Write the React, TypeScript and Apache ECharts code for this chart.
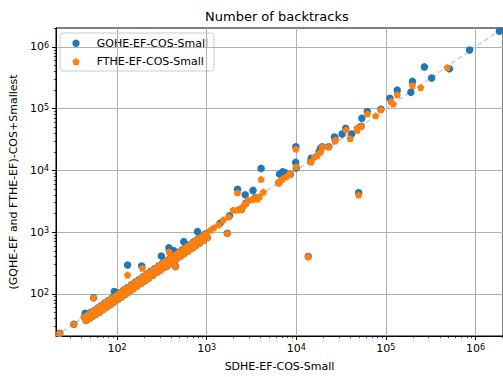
import React, { useEffect, useRef } from 'react';
import * as echarts from 'echarts';

const FONT = 'DejaVu Sans';
const axisMin = 20.8;
const axisMax = 2.03e6;
const majorTicks = [100, 1000, 10000, 100000, 1000000];
const seriesNames = ['GQHE-EF-COS-Small', 'FTHE-EF-COS-Small'];
const seriesColors = ['#1f77b4', '#ff7f0e'];

// dense band along the diagonal (both series)
const bandX = [43, 45, 47, 49, 51, 53, 56, 58, 61, 64, 67, 70, 73, 76, 80, 84, 88, 92, 97, 102, 107, 112, 118, 124, 130, 137, 144, 151, 159, 167, 176, 185, 195, 205, 215, 226, 238, 250, 263, 277, 291, 306, 322, 339, 356, 374, 393, 413, 434, 457, 480, 505, 531, 558, 587, 617, 649, 682, 717, 754, 793, 834, 877, 922, 970, 1020];
const bandY = [42, 37, 46, 40, 50, 43, 54, 47, 59, 51, 65, 56, 71, 61, 78, 67, 86, 74, 94, 81, 104, 89, 115, 99, 126, 109, 140, 121, 155, 134, 171, 148, 190, 164, 209, 181, 232, 200, 256, 222, 283, 245, 313, 271, 346, 300, 382, 331, 422, 366, 467, 404, 516, 447, 571, 494, 631, 546, 697, 603, 771, 667, 853, 738, 944, 816];

const gqhePoints: [number, number][] = [
  [22.9, 23.1], [32.9, 32.3], [44, 48.7], [54.7, 87], [93, 109], [131, 294], [188, 284], [312, 412],
  [379, 561], [430, 502], [555, 702], [791, 1020], [363, 284], [449, 277], [1410, 1390], [1700, 960],
  [1800, 1850], [2210, 4940], [2690, 4050], [3290, 4750], [4050, 10800], [2450, 2340], [2730, 2940],
  [3500, 3650], [6400, 6300], [6500, 8750], [7060, 9500], [7500, 9200], [8600, 8700], [9900, 24200],
  [9850, 13500], [10000, 11000], [13600, 402], [14500, 13900], [14700, 15700], [18000, 20000],
  [18700, 22800], [19500, 24200], [23000, 24200], [26700, 34700], [27000, 33800], [32500, 38800],
  [35600, 48000], [41500, 39000], [49700, 4360], [53000, 52000], [54000, 70000], [62000, 90000],
  [88000, 98000], [111000, 148000], [134000, 200000], [190000, 184000], [198000, 277000],
  [269000, 476000], [324000, 313000], [512000, 443000], [860000, 890000], [1850000, 1800000],
];

const fthePoints: [number, number][] = [
  [22.9, 23.1], [32.9, 32.3], [54.7, 87], [131, 203], [192, 261], [363, 284], [449, 277], [379, 483],
  [1100, 1080], [1200, 1180], [1350, 1310], [1530, 1580], [1750, 1770], [1700, 960], [1980, 2290],
  [2210, 4350], [2200, 2300], [2350, 2420], [2450, 2340], [2600, 2700], [2730, 2940], [2900, 3300],
  [3200, 3350], [3300, 3500], [3500, 3650], [3700, 3450], [3900, 3800], [4300, 4500], [4050, 7200],
  [6400, 6600], [6400, 6300], [7000, 7300], [7700, 7900], [8500, 8980], [8600, 8700], [9900, 22200],
  [10000, 11500], [13600, 402], [14500, 13900], [14700, 13800], [16100, 16700], [17200, 17700],
  [18700, 20000], [19500, 24200], [23000, 24200], [27000, 30000], [27500, 31500], [36000, 45600],
  [40000, 33000], [47700, 49000], [48000, 45000], [49700, 4000], [53000, 52000], [62000, 83000],
  [77000, 77000], [88000, 96000], [114000, 131000], [121000, 119000], [134000, 168000],
  [198000, 238000], [245000, 221000], [485000, 466000],
];

const PENT = 'path://M0,-10L9.511,-3.09L5.878,8.09L-5.878,8.09L-9.511,-3.09Z';

function pentagon(cx: number, cy: number, r: number): number[][] {
  const pts: number[][] = [];
  for (let k = 0; k < 5; k++) {
    const a = -Math.PI / 2 + (k * 2 * Math.PI) / 5;
    pts.push([cx + r * Math.cos(a), cy + r * Math.sin(a)]);
  }
  return pts;
}

export default function App() {
  const ref = useRef<HTMLDivElement>(null);
  useEffect(() => {
    const chart = echarts.init(ref.current!, null, { renderer: 'svg' });
    const band = bandX.map((x, i) => [x, bandY[i]]);
    const minor: number[] = [];
    for (let e = 1; e <= 6; e++) {
      for (let m = 2; m <= 9; m++) {
        const v = m * Math.pow(10, e);
        if (v > axisMin && v < axisMax) minor.push(v);
      }
    }
    const label = {
      color: '#000',
      fontFamily: FONT,
      fontSize: 11,
      customValues: majorTicks,
      formatter: (v: number) => `10{sup|${Math.round(Math.log10(v))}}`,
      rich: { sup: { fontSize: 8, fontFamily: FONT, color: '#000', verticalAlign: 'top' } },
    };
    const mainAxis = (name: string, gap: number, margin: number) => ({
      type: 'log',
      logBase: 10,
      min: axisMin,
      max: axisMax,
      name,
      nameLocation: 'middle',
      nameGap: gap,
      nameTextStyle: { color: '#000', fontFamily: FONT, fontSize: 11 },
      axisLine: { show: true, lineStyle: { color: '#000', width: 1 } },
      axisTick: { show: true, length: 4, lineStyle: { color: '#000', width: 1 }, customValues: majorTicks },
      axisLabel: { ...label, margin },
      splitLine: { show: true, lineStyle: { color: '#b0b0b0', width: 1 } },
    });
    const minorAxis = (position: string) => ({
      type: 'log',
      logBase: 10,
      min: axisMin,
      max: axisMax,
      position,
      axisLine: { show: false },
      axisTick: { show: true, length: 2.2, lineStyle: { color: '#000', width: 0.7 }, customValues: minor },
      axisLabel: { show: false },
      splitLine: { show: false },
    });
    const legendRows = [43.3, 61.7];
    chart.setOption({
      animation: false,
      backgroundColor: '#fff',
      title: {
        text: 'Number of backtracks',
        left: 205,
        top: 10,
        padding: 0,
        textStyle: { color: '#000', fontFamily: FONT, fontSize: 13, fontWeight: 'normal' },
      },
      grid: {
        left: 54, right: -3, top: 28, bottom: 41,
        show: true, borderColor: '#000', borderWidth: 1, backgroundColor: 'transparent',
      },
      graphic: [
        {
          type: 'group',
          z: 100,
          children: [
            {
              type: 'rect',
              shape: { x: 60, y: 33, width: 154, height: 38, r: 3 },
              style: { fill: 'rgba(255,255,255,0.8)', stroke: '#cccccc', lineWidth: 1 },
            },
            {
              type: 'circle',
              shape: { cx: 76, cy: legendRows[0], r: 3.7 },
              style: { fill: seriesColors[0] },
            },
            {
              type: 'polygon',
              shape: { points: pentagon(76, legendRows[1] + 0.3, 3.9) },
              style: { fill: seriesColors[1] },
            },
            {
              type: 'text',
              x: 96.7,
              y: legendRows[0],
              style: { text: seriesNames[0], fill: '#000', font: `11px "${FONT}"`, align: 'left', verticalAlign: 'middle' },
            },
            {
              type: 'text',
              x: 96.7,
              y: legendRows[1],
              style: { text: seriesNames[1], fill: '#000', font: `11px "${FONT}"`, align: 'left', verticalAlign: 'middle' },
            },
          ],
        },
      ],
      xAxis: [mainAxis('SDHE-EF-COS-Small', 25, 7), minorAxis('bottom')],
      yAxis: [mainAxis('(GQHE-EF and FTHE-EF)-COS+Smallest', 34, 7), minorAxis('left')],
      series: [
        {
          type: 'line',
          data: [[axisMin, axisMin], [axisMax, axisMax]],
          symbol: 'none',
          silent: true,
          lineStyle: { color: '#c8c8c8', width: 1.3, type: [5, 3] },
          z: 1,
        },
        {
          name: seriesNames[0],
          type: 'scatter',
          symbol: 'circle',
          symbolSize: 7.5,
          itemStyle: { color: seriesColors[0], opacity: 1 },
          data: [...band, ...gqhePoints],
          z: 2,
        },
        {
          name: seriesNames[1],
          type: 'scatter',
          symbol: PENT,
          symbolSize: [7.4, 7.1],
          itemStyle: { color: seriesColors[1], opacity: 1 },
          data: [...band, ...fthePoints],
          z: 3,
        },
      ],
    });
    return () => chart.dispose();
  }, []);
  return <div ref={ref} style={{ position: 'absolute', left: 0, top: 0, width: 503, height: 377 }} />;
}
